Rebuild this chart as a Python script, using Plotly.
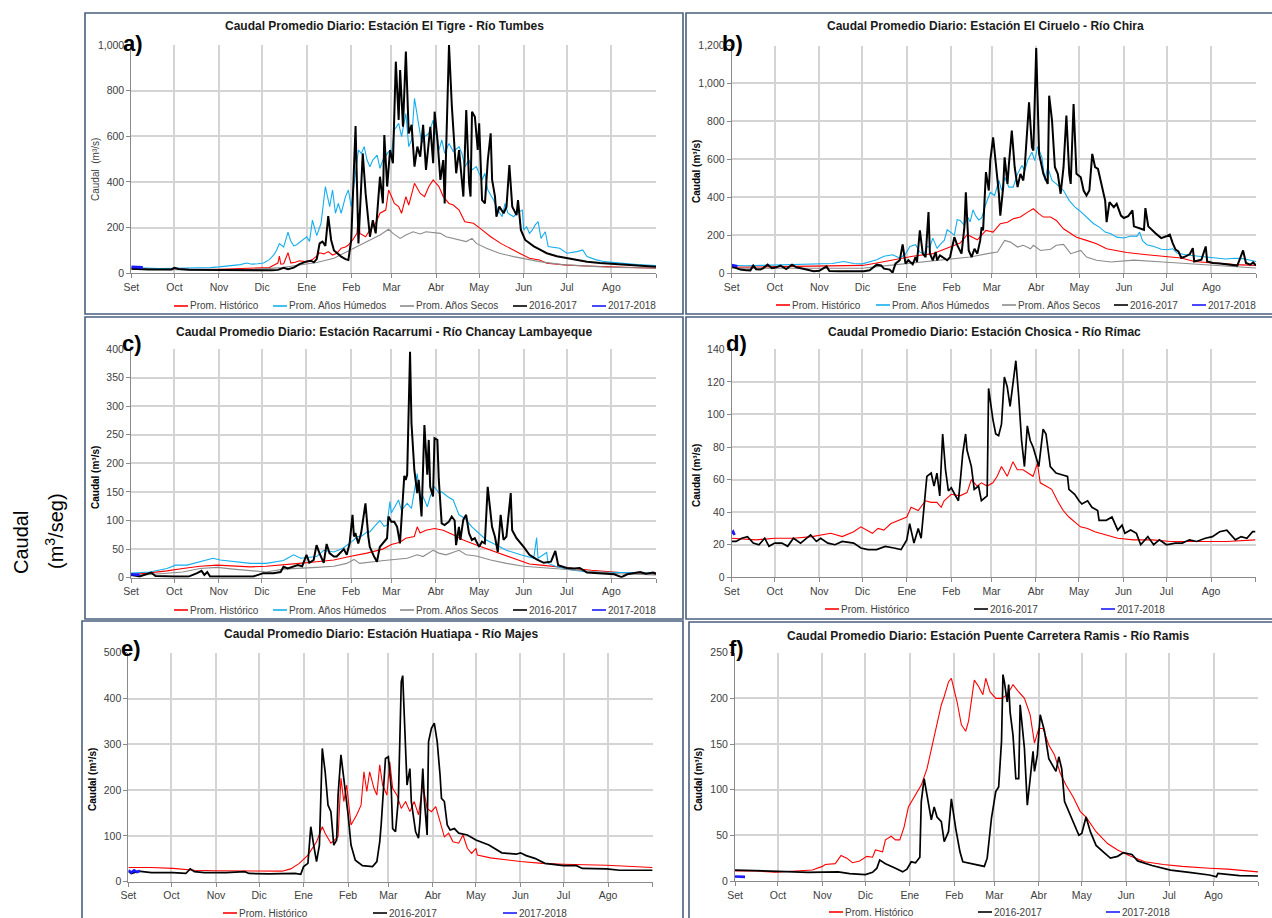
import plotly.graph_objects as go

W, H = 1272, 918

MONTHS = ["Set", "Oct", "Nov", "Dic", "Ene", "Feb", "Mar", "Abr", "May", "Jun", "Jul", "Ago"]
MONTH_START = [0, 30, 61, 91, 122, 153, 181, 212, 242, 273, 303, 334]
YEAR_END = 365

# ---------------- a) El Tigre - Tumbes ----------------
A_HIST_DAY = [0, 15, 30, 45, 61, 75, 91, 96, 99, 102, 103, 104, 106, 109, 111, 114, 117, 120, 122, 126, 129, 131, 134, 137, 140, 143, 146, 149, 151, 154, 157, 158, 159, 163, 166, 170, 173, 177, 179, 181, 183, 186, 188, 191, 193, 197, 201, 204, 207, 210, 214, 217, 221, 224, 228, 232, 238, 244, 250, 257, 263, 270, 277, 284, 289, 303, 317, 340, 365]
A_HIST_Q = [20, 18, 18, 17, 18, 20, 22, 25, 35, 45, 75, 40, 42, 90, 45, 48, 55, 52, 50, 60, 75, 90, 85, 95, 80, 88, 110, 115, 124, 146, 175, 263, 175, 160, 190, 219, 263, 277, 365, 336, 306, 292, 263, 336, 299, 394, 350, 336, 380, 409, 380, 336, 306, 299, 277, 226, 219, 190, 160, 131, 110, 88, 66, 58, 44, 36, 32, 26, 22]
A_HUM_DAY = [0, 10, 20, 30, 40, 48, 55, 61, 66, 71, 76, 80, 84, 88, 92, 96, 99, 101, 103, 106, 109, 111, 113, 115, 117, 120, 122, 124, 126, 129, 132, 135, 138, 140, 142, 144, 146, 149, 151, 153, 156, 158, 160, 162, 164, 166, 168, 171, 173, 175, 179, 181, 183, 186, 188, 191, 193, 195, 197, 200, 202, 204, 207, 210, 211, 214, 216, 218, 221, 224, 228, 230, 232, 235, 237, 240, 244, 246, 248, 252, 255, 258, 260, 262, 266, 268, 272, 273, 275, 277, 279, 281, 283, 285, 288, 290, 298, 303, 310, 314, 317, 323, 329, 340, 352, 365]
A_HUM_Q = [25, 22, 21, 22, 22, 25, 25, 28, 32, 35, 38, 45, 40, 42, 45, 60, 80, 100, 130, 115, 180, 140, 120, 125, 135, 150, 160, 140, 233, 165, 219, 380, 292, 365, 263, 306, 263, 336, 365, 292, 438, 540, 525, 555, 496, 467, 496, 518, 460, 496, 533, 525, 628, 657, 599, 700, 555, 584, 766, 642, 569, 599, 613, 671, 635, 540, 584, 525, 569, 533, 555, 525, 467, 496, 453, 467, 409, 438, 365, 321, 277, 248, 306, 263, 248, 263, 277, 190, 204, 175, 190, 212, 226, 153, 182, 117, 110, 88, 95, 102, 73, 60, 51, 44, 38, 34]
A_SEC_DAY = [0, 20, 40, 61, 80, 94, 105, 117, 129, 141, 152, 164, 173, 179, 182, 187, 191, 196, 201, 205, 210, 215, 219, 224, 229, 233, 237, 240, 247, 256, 266, 275, 284, 300, 330, 365]
A_SEC_Q = [18, 16, 15, 14, 15, 20, 25, 36, 47, 66, 102, 139, 168, 193, 175, 153, 168, 182, 172, 182, 178, 175, 160, 153, 146, 139, 153, 131, 110, 88, 73, 61, 51, 38, 27, 22]
A_1617_DAY = [0, 5, 12, 20, 28, 30, 33, 40, 50, 60, 70, 80, 90, 98, 102, 106, 109, 113, 117, 120, 122, 125, 127, 129, 131, 133, 135, 137, 139, 141, 143, 146, 149, 151, 153, 156, 158, 161, 163, 166, 168, 170, 173, 175, 176, 178, 180, 182, 184, 186, 187, 189, 191, 193, 195, 197, 199, 201, 203, 205, 208, 210, 211, 213, 215, 217, 218, 221, 223, 224, 226, 228, 230, 231, 233, 235, 236, 237, 239, 241, 242, 244, 246, 248, 250, 251, 253, 254, 256, 259, 261, 263, 265, 268, 269, 271, 274, 277, 280, 284, 289, 296, 303, 310, 317, 326, 336, 350, 365]
A_1617_Q = [20, 18, 17, 17, 17, 24, 19, 16, 15, 14, 13, 13, 12, 13, 15, 24, 18, 25, 40, 48, 52, 55, 48, 62, 131, 139, 120, 251, 146, 100, 88, 73, 62, 58, 146, 645, 131, 525, 350, 160, 233, 175, 423, 306, 606, 380, 540, 482, 927, 672, 890, 642, 971, 613, 650, 467, 555, 511, 650, 453, 642, 482, 708, 584, 409, 496, 306, 1000, 730, 628, 438, 540, 409, 336, 715, 394, 336, 708, 686, 540, 657, 321, 306, 496, 613, 409, 336, 248, 292, 263, 292, 474, 292, 255, 321, 190, 146, 131, 118, 105, 88, 75, 66, 58, 51, 45, 41, 35, 29]
A_1718_DAY = [0, 4, 8]
A_1718_Q = [28, 27, 26]

# ---------------- b) El Ciruelo - Chira ----------------
B_HIST_DAY = [0, 15, 30, 45, 61, 80, 91, 101, 112, 126, 140, 150, 159, 164, 168, 171, 177, 182, 187, 192, 196, 201, 206, 210, 214, 217, 222, 226, 231, 236, 240, 247, 254, 261, 268, 275, 289, 303, 313, 322, 335, 350, 365]
B_HIST_Q = [30, 32, 35, 36, 38, 38, 40, 53, 70, 88, 102, 131, 158, 202, 184, 175, 225, 216, 260, 268, 286, 295, 321, 339, 312, 295, 295, 277, 233, 207, 189, 172, 154, 128, 116, 108, 96, 88, 79, 61, 53, 44, 40]
B_HUM_DAY = [0, 10, 20, 30, 40, 50, 61, 70, 78, 85, 91, 96, 101, 106, 112, 117, 121, 124, 128, 131, 134, 136, 138, 140, 143, 145, 148, 150, 152, 155, 157, 159, 162, 164, 166, 168, 170, 172, 174, 177, 180, 183, 186, 188, 190, 193, 196, 199, 202, 204, 206, 209, 211, 213, 216, 218, 220, 223, 226, 231, 235, 239, 242, 247, 252, 256, 260, 264, 268, 273, 278, 282, 284, 286, 289, 294, 299, 303, 307, 310, 316, 325, 335, 344, 350, 356, 365]
B_HUM_Q = [40, 38, 40, 42, 42, 45, 45, 50, 61, 50, 48, 61, 70, 88, 96, 79, 100, 140, 149, 110, 102, 140, 137, 184, 130, 150, 172, 228, 216, 200, 281, 277, 251, 298, 270, 333, 300, 280, 290, 365, 426, 409, 488, 435, 505, 453, 453, 523, 567, 540, 593, 637, 593, 667, 610, 488, 558, 488, 470, 435, 382, 347, 330, 295, 260, 242, 216, 207, 189, 185, 195, 193, 216, 170, 149, 140, 125, 123, 128, 105, 96, 88, 79, 74, 78, 76, 61]
B_SEC_DAY = [0, 30, 61, 91, 103, 126, 150, 166, 178, 185, 190, 194, 199, 203, 208, 210, 215, 222, 226, 231, 236, 243, 247, 254, 264, 273, 280, 300, 320, 340, 365]
B_SEC_Q = [25, 25, 25, 25, 35, 53, 70, 84, 102, 111, 172, 163, 137, 146, 128, 146, 119, 125, 146, 151, 102, 119, 84, 67, 58, 62, 68, 58, 48, 36, 26]
B_1617_DAY = [0, 3, 6, 10, 13, 15, 17, 20, 22, 25, 28, 31, 34, 38, 42, 45, 48, 52, 57, 61, 66, 68, 75, 85, 92, 96, 99, 101, 104, 106, 110, 112, 114, 117, 119, 121, 123, 126, 128, 129, 131, 133, 135, 137, 138, 140, 142, 143, 145, 147, 150, 152, 155, 157, 160, 162, 163, 165, 167, 169, 171, 173, 174, 175, 177, 179, 180, 182, 184, 186, 187, 189, 190, 192, 193, 195, 197, 199, 201, 203, 204, 207, 209, 210, 212, 214, 215, 217, 220, 221, 223, 225, 227, 229, 231, 233, 235, 236, 238, 240, 243, 245, 247, 249, 251, 253, 255, 258, 260, 261, 263, 266, 268, 271, 273, 276, 279, 280, 284, 287, 288, 290, 295, 299, 303, 305, 307, 309, 311, 313, 316, 319, 321, 322, 327, 330, 331, 335, 340, 345, 352, 356, 358, 361, 363, 365]
B_1617_Q = [35, 25, 18, 15, 14, 39, 20, 18, 26, 44, 25, 30, 39, 21, 44, 30, 26, 18, 9, 12, 35, 11, 9, 9, 9, 14, 32, 44, 40, 23, 18, 2, 49, 67, 151, 49, 67, 46, 84, 58, 225, 102, 84, 321, 102, 67, 111, 67, 93, 84, 67, 84, 189, 147, 102, 242, 426, 119, 84, 128, 102, 172, 242, 225, 532, 435, 593, 716, 575, 418, 303, 453, 610, 470, 575, 751, 558, 453, 523, 488, 558, 900, 663, 646, 1186, 628, 593, 523, 470, 935, 804, 558, 523, 418, 558, 830, 523, 470, 891, 523, 505, 435, 409, 435, 628, 558, 549, 453, 382, 268, 374, 347, 365, 303, 290, 300, 330, 246, 235, 228, 342, 246, 210, 184, 195, 202, 158, 123, 114, 79, 88, 100, 131, 61, 70, 140, 61, 53, 50, 44, 39, 119, 53, 44, 56, 39]
B_1718_DAY = [0, 2, 4]
B_1718_Q = [42, 38, 36]

# ---------------- c) Racarrumi - Chancay Lambayeque ----------------
C_HIST_DAY = [0, 13, 25, 36, 48, 60, 71, 83, 94, 106, 117, 129, 141, 152, 164, 175, 181, 187, 191, 197, 199, 201, 205, 211, 217, 224, 231, 240, 250, 259, 268, 277, 285, 292, 303, 320, 340, 365]
C_HIST_Q = [5, 8, 12, 16, 20, 22, 20, 19, 20, 22, 25, 28, 31, 37, 43, 50, 58, 62, 69, 72, 89, 78, 83, 86, 83, 75, 66, 57, 48, 40, 31, 24, 22, 20, 17, 13, 9, 6]
C_HUM_DAY = [0, 13, 25, 31, 39, 48, 57, 62, 71, 83, 94, 106, 111, 113, 118, 129, 134, 141, 147, 152, 155, 157, 160, 164, 166, 169, 173, 176, 178, 180, 181, 186, 188, 192, 195, 199, 201, 203, 206, 208, 211, 214, 216, 220, 224, 228, 232, 237, 242, 247, 254, 261, 271, 280, 282, 283, 289, 290, 295, 303, 317, 336, 365]
C_HUM_Q = [8, 10, 16, 22, 22, 28, 34, 31, 28, 25, 25, 30, 37, 40, 34, 37, 48, 45, 51, 60, 66, 72, 72, 80, 80, 89, 100, 90, 92, 133, 113, 136, 118, 130, 121, 182, 136, 142, 124, 142, 159, 148, 150, 142, 136, 110, 104, 89, 78, 66, 57, 48, 40, 34, 70, 34, 44, 25, 20, 15, 10, 9, 8]
C_SEC_DAY = [0, 25, 36, 48, 60, 71, 83, 94, 106, 118, 129, 141, 150, 155, 159, 176, 181, 192, 199, 203, 210, 214, 219, 228, 233, 240, 250, 261, 273, 285, 290, 310, 340, 365]
C_SEC_Q = [3, 8, 10, 16, 18, 15, 12, 10, 15, 16, 18, 20, 25, 32, 25, 30, 31, 34, 40, 37, 48, 43, 40, 48, 40, 38, 31, 25, 20, 18, 17, 13, 7, 5]
C_1617_DAY = [0, 6, 14, 17, 30, 40, 46, 49, 51, 53, 55, 71, 85, 92, 99, 104, 106, 109, 113, 116, 119, 122, 124, 127, 129, 131, 134, 136, 138, 141, 143, 145, 148, 150, 152, 154, 155, 156, 158, 160, 163, 165, 166, 169, 171, 173, 175, 178, 179, 181, 183, 185, 187, 189, 190, 191, 192, 194, 195, 197, 199, 200, 202, 204, 206, 207, 208, 210, 211, 213, 214, 216, 218, 221, 223, 225, 226, 228, 229, 231, 233, 235, 237, 239, 242, 244, 246, 248, 251, 253, 255, 257, 259, 261, 264, 265, 268, 273, 277, 282, 287, 292, 295, 297, 303, 308, 312, 317, 326, 336, 341, 345, 354, 358, 363, 365]
C_1617_Q = [5, 2, 9, 3, 2, 2, 8, 12, 5, 10, 2, 2, 2, 8, 8, 10, 19, 16, 19, 22, 20, 40, 26, 31, 57, 43, 26, 59, 43, 37, 37, 43, 50, 40, 60, 110, 72, 78, 60, 78, 130, 72, 54, 37, 28, 54, 60, 69, 107, 98, 98, 89, 60, 142, 178, 171, 180, 395, 270, 188, 148, 171, 107, 267, 180, 241, 159, 142, 244, 241, 171, 95, 92, 98, 107, 100, 57, 89, 66, 101, 110, 78, 66, 69, 54, 63, 60, 159, 89, 72, 45, 110, 66, 72, 148, 83, 69, 54, 40, 32, 26, 28, 47, 22, 17, 16, 17, 9, 7, 6, 1, 6, 10, 7, 9, 7]
C_1718_DAY = [0, 3, 6]
C_1718_Q = [6, 5, 5]

# ---------------- d) Chosica - Rimac ----------------
D_HIST_DAY = [0, 17, 30, 43, 56, 69, 77, 85, 90, 96, 98, 102, 106, 111, 117, 122, 125, 130, 135, 139, 143, 146, 148, 153, 159, 164, 167, 171, 174, 178, 182, 185, 188, 192, 196, 199, 203, 207, 210, 213, 215, 219, 223, 227, 231, 235, 239, 243, 248, 253, 261, 269, 280, 293, 306, 320, 332, 345, 365]
D_HIST_Q = [24, 23, 24, 24, 25, 27, 25, 28, 31, 28, 27, 30, 29, 33, 35, 37, 43, 41, 47, 46, 46, 43, 47, 51, 50, 52, 60, 56, 58, 56, 58, 62, 68, 62, 71, 66, 66, 64, 62, 70, 58, 56, 54, 47, 41, 37, 34, 31, 30, 28, 26, 24, 23, 23, 22, 22, 22, 22, 23]
D_1617_DAY = [0, 3, 7, 11, 15, 19, 23, 26, 30, 35, 39, 43, 48, 55, 59, 62, 67, 72, 77, 85, 90, 95, 101, 107, 113, 118, 122, 124, 127, 130, 132, 134, 136, 139, 141, 143, 145, 147, 149, 151, 153, 156, 158, 160, 161, 163, 164, 167, 169, 172, 174, 178, 179, 182, 184, 186, 188, 190, 192, 194, 196, 198, 200, 202, 204, 206, 208, 210, 212, 214, 217, 219, 222, 226, 230, 234, 235, 239, 242, 244, 248, 251, 255, 256, 261, 265, 269, 272, 274, 278, 282, 285, 290, 294, 298, 303, 309, 314, 319, 324, 330, 335, 340, 345, 351, 355, 359, 363, 365]
D_1617_Q = [22, 22, 24, 25, 21, 20, 24, 19, 21, 21, 19, 24, 21, 26, 22, 24, 21, 20, 22, 21, 18, 17, 17, 19, 18, 17, 23, 33, 21, 30, 24, 41, 62, 64, 56, 64, 50, 88, 66, 53, 55, 50, 47, 66, 76, 88, 78, 68, 54, 56, 47, 50, 116, 97, 88, 87, 94, 123, 117, 105, 120, 133, 111, 84, 68, 93, 84, 80, 74, 68, 91, 88, 68, 64, 63, 62, 54, 51, 47, 45, 47, 43, 41, 35, 35, 37, 29, 32, 27, 29, 27, 20, 25, 20, 23, 20, 21, 21, 23, 22, 24, 25, 28, 29, 23, 25, 24, 28, 28]
D_1718_DAY = [0, 1, 2]
D_1718_Q = [27, 28, 26]

# ---------------- e) Huatiapa - Majes ----------------
E_HIST_DAY = [0, 16, 31, 46, 61, 80, 92, 107, 113, 119, 125, 131, 135, 137, 141, 146, 148, 150, 152, 155, 159, 162, 164, 166, 168, 171, 173, 175, 177, 180, 182, 184, 187, 190, 193, 196, 199, 202, 205, 208, 211, 214, 217, 220, 223, 226, 230, 233, 236, 239, 242, 243, 252, 264, 273, 288, 303, 333, 365]
E_HIST_Q = [31, 31, 29, 25, 24, 23, 23, 23, 28, 40, 58, 87, 120, 106, 84, 98, 226, 175, 211, 124, 146, 167, 240, 197, 240, 204, 189, 255, 211, 189, 262, 204, 189, 160, 175, 153, 175, 146, 211, 160, 153, 164, 131, 98, 106, 87, 84, 102, 73, 62, 73, 58, 52, 47, 44, 40, 38, 36, 31]
E_1617_DAY = [0, 2, 7, 16, 31, 40, 43, 46, 53, 68, 81, 84, 98, 116, 120, 122, 125, 126, 127, 129, 131, 133, 135, 137, 139, 141, 143, 145, 146, 148, 151, 153, 155, 158, 163, 170, 173, 175, 176, 178, 179, 181, 183, 184, 186, 188, 190, 191, 193, 194, 196, 197, 200, 202, 203, 205, 206, 208, 209, 211, 213, 215, 217, 218, 220, 222, 224, 227, 230, 236, 242, 251, 260, 270, 273, 277, 283, 290, 303, 312, 316, 333, 342, 365]
E_1617_Q = [22, 18, 23, 20, 20, 18, 28, 22, 20, 20, 22, 18, 17, 18, 16, 33, 40, 80, 120, 80, 44, 80, 291, 240, 167, 153, 80, 91, 189, 277, 204, 146, 80, 47, 35, 33, 44, 87, 124, 240, 269, 273, 204, 116, 109, 182, 437, 450, 291, 211, 247, 175, 109, 95, 131, 247, 182, 102, 306, 335, 346, 306, 233, 182, 175, 124, 113, 116, 106, 102, 91, 80, 63, 60, 63, 57, 51, 40, 35, 35, 29, 28, 25, 25]
E_1718_DAY = [0, 2, 4, 6, 8]
E_1718_Q = [25, 20, 25, 21, 24]

# ---------------- f) Puente Carretera Ramis - Ramis ----------------
F_HIST_DAY = [0, 15, 28, 41, 54, 61, 63, 70, 74, 78, 82, 87, 92, 96, 98, 103, 105, 109, 112, 115, 118, 121, 125, 130, 134, 137, 140, 144, 146, 149, 151, 155, 158, 161, 163, 167, 170, 173, 175, 178, 182, 186, 190, 194, 198, 202, 206, 209, 212, 215, 219, 223, 227, 231, 236, 241, 245, 252, 260, 267, 275, 286, 299, 312, 331, 344, 365]
F_HIST_Q = [11, 11, 9.5, 11, 12, 16, 18, 19, 28, 25, 20, 22, 27, 26, 34, 32, 45, 49, 45, 45, 59, 81, 92, 105, 123, 145, 167, 193, 202, 218, 222, 196, 171, 164, 175, 220, 213, 204, 222, 207, 200, 200, 204, 215, 207, 200, 182, 151, 167, 167, 149, 138, 118, 105, 92, 76, 70, 54, 41, 34, 28, 21, 18, 16, 14, 13, 10]
F_1617_DAY = [0, 15, 30, 41, 51, 62, 72, 80, 91, 96, 99, 101, 105, 112, 117, 120, 123, 126, 129, 130, 132, 134, 137, 139, 141, 144, 146, 149, 151, 154, 157, 159, 165, 170, 174, 176, 179, 182, 184, 186, 187, 188, 190, 191, 192, 194, 196, 198, 199, 202, 204, 206, 208, 209, 211, 213, 216, 219, 221, 224, 226, 228, 230, 233, 237, 240, 242, 245, 248, 252, 257, 262, 267, 271, 277, 281, 291, 304, 317, 331, 336, 337, 352, 365]
F_1617_Q = [12, 11, 10, 10, 9.5, 10, 10, 8, 7, 9.5, 14, 23, 19, 14, 10, 13, 21, 20, 26, 87, 112, 94, 67, 81, 70, 65, 43, 54, 90, 58, 32, 21, 19, 18, 16, 25, 69, 98, 103, 153, 226, 218, 196, 215, 185, 160, 112, 112, 193, 145, 83, 112, 142, 120, 138, 182, 164, 134, 129, 120, 136, 123, 87, 76, 61, 50, 52, 70, 54, 39, 32, 25, 27, 31, 29, 22, 17, 12, 9.5, 6.6, 4.7, 8.4, 5.8, 5.5]
F_1718_DAY = [0, 3, 7]
F_1718_Q = [5, 5, 4.5]

# ---------------- styling ----------------
RED, CYAN, GREY, BLACK, BLUE = "#ff0000", "#14aeee", "#8c8c8c", "#000000", "#1a1aff"
FRAME = "#4a5f7e"
GRID = "#d4d4d4"
AXIS = "#8a8a8a"
TXT = "#404040"
FONT = "Liberation Sans, Arial, sans-serif"

NAMES = {"hist": "Prom. Histórico", "hum": "Prom. Años Húmedos", "sec": "Prom. Años Secos",
         "y1617": "2016-2017", "y1718": "2017-2018"}
COLORS = {"hist": RED, "hum": CYAN, "sec": GREY, "y1617": BLACK, "y1718": BLUE}


def fx(x):
    return x / W


def fy(y):
    return 1 - y / H


panels = [
    dict(box=(131.3, 45.0, 656.0, 273.3), frame=(85, 13, 683, 314), ymax=1000, dtick=200, fmt=",d",
         title="Caudal Promedio Diario: Estación El Tigre - Río Tumbes", title_xy=(384, 26),
         label="a)", label_xy=(121, 43), ytitle_xy=(96, 170), ybold=False,
         legend_y=306, legend_x=[174, 273, 400, 513, 592], bw=2.0,
         series=[("hist", A_HIST_DAY, A_HIST_Q), ("hum", A_HUM_DAY, A_HUM_Q), ("sec", A_SEC_DAY, A_SEC_Q),
                 ("y1617", A_1617_DAY, A_1617_Q), ("y1718", A_1718_DAY, A_1718_Q)]),
    dict(box=(731.7, 45.5, 1256.0, 273.0), frame=(686, 13, 1276, 314), ymax=1200, dtick=200, fmt=",d",
         title="Caudal Promedio Diario: Estación El Ciruelo - Río Chira", title_xy=(985, 26),
         label="b)", label_xy=(720, 43), ytitle_xy=(697, 172), ybold=True,
         legend_y=305, legend_x=[776, 876, 1002, 1114, 1192], bw=2.0,
         series=[("hist", B_HIST_DAY, B_HIST_Q), ("hum", B_HUM_DAY, B_HUM_Q), ("sec", B_SEC_DAY, B_SEC_Q),
                 ("y1617", B_1617_DAY, B_1617_Q), ("y1718", B_1718_DAY, B_1718_Q)]),
    dict(box=(131.0, 349.0, 656.0, 577.7), frame=(85, 317, 683, 619), ymax=400, dtick=50, fmt="",
         title="Caudal Promedio Diario: Estación Racarrumi - Río Chancay Lambayeque", title_xy=(384, 332),
         label="c)", label_xy=(120, 343), ytitle_xy=(95, 478), ybold=True,
         legend_y=610, legend_x=[174, 273, 400, 513, 592], bw=2.0,
         series=[("hist", C_HIST_DAY, C_HIST_Q), ("hum", C_HUM_DAY, C_HUM_Q), ("sec", C_SEC_DAY, C_SEC_Q),
                 ("y1617", C_1617_DAY, C_1617_Q), ("y1718", C_1718_DAY, C_1718_Q)]),
    dict(box=(731.7, 349.3, 1255.5, 577.3), frame=(686, 317, 1276, 619), ymax=140, dtick=20, fmt="",
         title="Caudal Promedio Diario: Estación Chosica - Río Rímac", title_xy=(984, 332),
         label="d)", label_xy=(724, 343), ytitle_xy=(696, 476), ybold=True,
         legend_y=609, legend_x=[825, 974, 1101], bw=1.7,
         series=[("hist", D_HIST_DAY, D_HIST_Q), ("y1617", D_1617_DAY, D_1617_Q), ("y1718", D_1718_DAY, D_1718_Q)]),
    dict(box=(128.4, 652.7, 652.6, 881.7), frame=(82, 621, 683, 922), ymax=500, dtick=100, fmt="",
         title="Caudal Promedio Diario: Estación Huatiapa - Río Majes", title_xy=(381, 634),
         label="e)", label_xy=(119, 648), ytitle_xy=(92, 780), ybold=True,
         legend_y=913, legend_x=[223, 373, 503], bw=1.7,
         series=[("hist", E_HIST_DAY, E_HIST_Q), ("y1617", E_1617_DAY, E_1617_Q), ("y1718", E_1718_DAY, E_1718_Q)]),
    dict(box=(735.0, 652.7, 1258.0, 881.0), frame=(689, 622, 1276, 922), ymax=250, dtick=50, fmt="",
         title="Caudal Promedio Diario: Estación Puente Carretera Ramis - Río Ramis", title_xy=(988, 636),
         label="f)", label_xy=(727, 648), ytitle_xy=(698, 780), ybold=True,
         legend_y=912, legend_x=[829, 978, 1106], bw=1.7,
         series=[("hist", F_HIST_DAY, F_HIST_Q), ("y1617", F_1617_DAY, F_1617_Q), ("y1718", F_1718_DAY, F_1718_Q)]),
]

fig = go.Figure()
layout = dict(width=W, height=H, margin=dict(l=0, r=0, t=0, b=0, pad=0, autoexpand=False),
              paper_bgcolor="white", plot_bgcolor="white", showlegend=False,
              font=dict(family=FONT, color=TXT))
shapes, annotations = [], []

for i, p in enumerate(panels, start=1):
    sfx = "" if i == 1 else str(i)
    x0, y0, x1, y1 = p["box"]
    layout["xaxis" + sfx] = dict(
        domain=[fx(x0), fx(x1)], anchor="y" + sfx, range=[0, YEAR_END],
        tickmode="array", tickvals=MONTH_START, ticktext=MONTHS,
        showgrid=True, gridcolor=GRID, gridwidth=1.5, zeroline=False,
        showline=True, linecolor=AXIS, linewidth=1,
        ticks="outside", ticklen=4, tickcolor=AXIS,
        minor=dict(tickmode="array", tickvals=[YEAR_END], showgrid=True, gridcolor=GRID,
                   gridwidth=1.5, ticks="outside", ticklen=4, tickcolor=AXIS),
        tickfont=dict(size=10.5, color=TXT, family=FONT), fixedrange=True, automargin=False)
    layout["yaxis" + sfx] = dict(
        domain=[fy(y1), fy(y0)], anchor="x" + sfx, range=[0, p["ymax"]], dtick=p["dtick"],
        tickformat=p["fmt"], showgrid=True, gridcolor=GRID, gridwidth=1.5, zeroline=False,
        showline=True, linecolor=AXIS, linewidth=1,
        ticks="outside", ticklen=4, tickcolor=AXIS,
        tickfont=dict(size=10.5, color=TXT, family=FONT), fixedrange=True, automargin=False)

    for key, days, q in p["series"]:
        width = {"hist": 1.1, "hum": 1.1, "sec": 1.1, "y1617": p["bw"], "y1718": 2.6}[key]
        fig.add_trace(go.Scatter(x=days, y=q, mode="lines", name=NAMES[key],
                                 line=dict(color=COLORS[key], width=width),
                                 xaxis="x" + sfx, yaxis="y" + sfx, hoverinfo="skip"))

    # panel frame
    fx0, fy0, fx1, fy1 = p["frame"]
    shapes.append(dict(type="rect", xref="paper", yref="paper", x0=fx(fx0), x1=fx(fx1),
                       y0=fy(fy1), y1=fy(fy0), line=dict(color=FRAME, width=1.6), layer="above"))

    # title, panel letter, axis title
    tx, ty = p["title_xy"]
    annotations.append(dict(text="<b>" + p["title"] + "</b>", x=fx(tx), y=fy(ty), xref="paper", yref="paper",
                            xanchor="center", yanchor="middle", showarrow=False,
                            font=dict(size=12, color="#1a1a1a", family=FONT)))
    lx, ly = p["label_xy"]
    annotations.append(dict(text="<b>" + p["label"] + "</b>", x=fx(lx), y=fy(ly), xref="paper", yref="paper",
                            xanchor="left", yanchor="middle", showarrow=False,
                            font=dict(size=22, color="#000000", family=FONT)))
    ax, ay = p["ytitle_xy"]
    yt = "Caudal (m³/s)" if p["ybold"] else "Caudal  (m³/s)"
    annotations.append(dict(text=("<b>%s</b>" % yt) if p["ybold"] else yt, x=fx(ax), y=fy(ay),
                            xref="paper", yref="paper", xanchor="center", yanchor="middle",
                            textangle=-90, showarrow=False,
                            font=dict(size=10, color="#000000" if p["ybold"] else TXT, family=FONT)))

    # legend row under the panel
    for (key, _, _), lx0 in zip(p["series"], p["legend_x"]):
        shapes.append(dict(type="line", xref="paper", yref="paper", x0=fx(lx0), x1=fx(lx0 + 14),
                           y0=fy(p["legend_y"]), y1=fy(p["legend_y"]),
                           line=dict(color=COLORS[key], width=1.6)))
        annotations.append(dict(text=NAMES[key], x=fx(lx0 + 14), y=fy(p["legend_y"]), xref="paper",
                                yref="paper", xanchor="left", yanchor="middle", showarrow=False,
                                font=dict(size=10, color=TXT, family=FONT)))

# shared axis caption on the left
annotations.append(dict(text="Caudal", x=fx(21), y=fy(543), xref="paper", yref="paper",
                        xanchor="center", yanchor="middle", textangle=-90, showarrow=False,
                        font=dict(size=20, color="#000000", family=FONT)))
annotations.append(dict(text="(m<sup>3</sup>/seg)", x=fx(54), y=fy(531), xref="paper", yref="paper",
                        xanchor="center", yanchor="middle", textangle=-90, showarrow=False,
                        font=dict(size=20, color="#000000", family=FONT)))

layout["shapes"] = shapes
layout["annotations"] = annotations
fig.update_layout(**layout)
fig.write_html("out.html")
